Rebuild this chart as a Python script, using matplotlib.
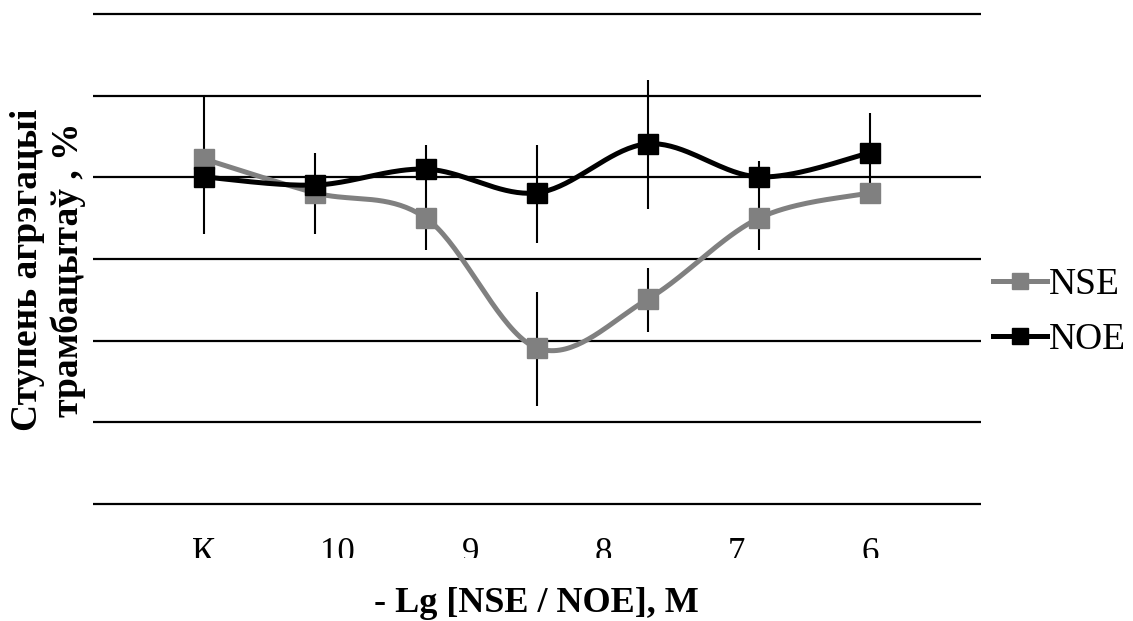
import numpy as np
import matplotlib
matplotlib.use("Agg")
import matplotlib.pyplot as plt
from matplotlib.lines import Line2D
from matplotlib.transforms import Bbox, TransformedBbox, blended_transform_factory

# ---- data ----
x_points = [0, 1, 2, 3, 4, 5, 6]
nse = [84.5, 76.2, 70.0, 38.2, 50.2, 70.0, 76.2]
noe = [80.1, 78.1, 82.0, 76.2, 88.2, 80.1, 86.0]
noe_err_low = [66.1, 66.1, 62.2, 63.9, 72.2, 62.2, 78.1]
noe_err_high = [99.9, 86.0, 87.9, 87.9, 103.8, 84.0, 95.8]
nse_err_x = [3, 4]
nse_err_low = [24.0, 42.1]
nse_err_high = [51.9, 57.8]
tick_labels = ["К", "10", "9", "8", "7", "6"]
y_grid = [0, 20, 40, 60, 80, 100, 120]

plt.rcParams['font.family'] = ['Liberation Serif', 'DejaVu Serif']


def smooth(x, y, n=40):
    P = np.column_stack([x, y]).astype(float)
    Pext = np.vstack([P[0], P, P[-1]])
    out = []
    t = np.linspace(0, 1, n)[:, None]
    for i in range(len(P) - 1):
        p0, p1, p2, p3 = Pext[i], Pext[i + 1], Pext[i + 2], Pext[i + 3]
        c1 = p1 + (p2 - p0) / 6.0
        c2 = p2 - (p3 - p1) / 6.0
        seg = (1 - t) ** 3 * p1 + 3 * (1 - t) ** 2 * t * c1 + 3 * (1 - t) * t ** 2 * c2 + t ** 3 * p2
        out.append(seg if i == 0 else seg[1:])
    return np.vstack(out)


fig = plt.figure(figsize=(11.33, 6.21), dpi=100)
ax = fig.add_axes([0.08208, 0.1818, 0.78376, 0.8023])
ax.set_xlim(-1, 7)
ax.set_ylim(-1, 121)
ax.set_yticks(y_grid)
ax.grid(axis='y', color='black', lw=1.6, zorder=0)
ax.set_axisbelow(True)
ax.tick_params(left=False, bottom=False, labelleft=False, labelbottom=False)
for s in ax.spines.values():
    s.set_visible(False)

gray = '#808080'
# error bars
ax.vlines(x_points, noe_err_low, noe_err_high, color='black', lw=1.5, zorder=2)
ax.vlines(nse_err_x, nse_err_low, nse_err_high, color='black', lw=1.5, zorder=2)

s_nse = smooth(x_points, nse)
s_noe = smooth(x_points, noe)
ax.plot(s_nse[:, 0], s_nse[:, 1], color=gray, lw=3.6, zorder=3, solid_capstyle='round')
ax.plot(x_points, nse, ls='none', marker='s', ms=14.5, color=gray, zorder=4)
ax.plot(s_noe[:, 0], s_noe[:, 1], color='black', lw=3.6, zorder=5, solid_capstyle='round')
ax.plot(x_points, noe, ls='none', marker='s', ms=14.5, color='black', zorder=6)

# x tick labels (clipped at the bottom as in the reference)
tick_pos = np.linspace(0, 6, len(tick_labels))
trans = blended_transform_factory(ax.transData, fig.transFigure)
clip = TransformedBbox(Bbox([[0, (621 - 558) / 621], [1, 1]]), fig.transFigure)
for p, lab in zip(tick_pos, tick_labels):
    t = ax.text(p, (621 - 537) / 621, lab, transform=trans, ha='center', va='top',
                fontsize=25, clip_on=True)
    t.set_clip_box(clip)

fig.text(536 / 1133, (621 - 604) / 621, "- Lg [NSE / NOE], M", ha='center', va='center',
         fontsize=26, fontweight='bold')
fig.text(48 / 1133, (621 - 270) / 621, "Ступень агрэгацыі\nтрамбацытаў , %", ha='center',
         va='center', rotation=90, fontsize=27, fontweight='bold', multialignment='center')

handles = [Line2D([], [], color=gray, lw=3.6, marker='s', ms=11),
           Line2D([], [], color='black', lw=3.6, marker='s', ms=11)]
fig.legend(handles, ["NSE", "NOE"], loc='center left', bbox_to_anchor=(993 / 1133, (621 - 312) / 621),
           frameon=False, fontsize=27, handlelength=1.45, handletextpad=0.05, labelspacing=0.55,
           borderpad=0, borderaxespad=0)

fig.savefig("out.png", dpi=100)
